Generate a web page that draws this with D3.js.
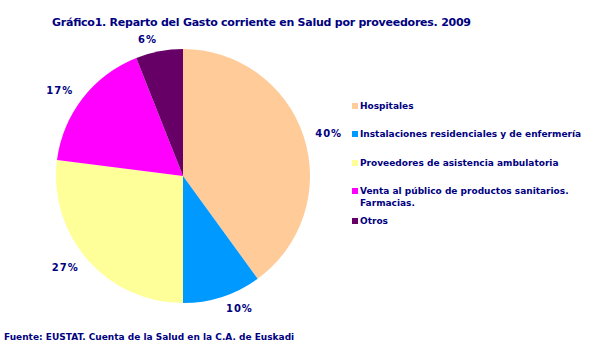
<!DOCTYPE html>
<html>
<head>
<meta charset="utf-8">
<script src="https://cdn.jsdelivr.net/npm/d3@7"></script>
<style>
  body { margin: 0; background: #fff; }
  text { font-family: "DejaVu Sans", Verdana, sans-serif; fill: #000080; font-weight: bold; }
</style>
</head>
<body>
<div id="chart"></div>
<script>
// data
const categories = ["Hospitales", "Instalaciones residenciales y de enfermería", "Proveedores de asistencia ambulatoria", "Venta al público de productos sanitarios. Farmacias.", "Otros"];
const shares = [40, 10, 27, 17, 6];
const colors = ["#FFCC99", "#0099FF", "#FFFF99", "#FF00FF", "#660066"];

const width = 598, height = 355;
const cx = 183, cy = 176, radius = 127;

const svg = d3.select("#chart").append("svg")
    .attr("width", width)
    .attr("height", height);

const data = categories.map((c, i) => ({ name: c, value: shares[i], color: colors[i] }));

const pie = d3.pie().value(d => d.value).sort(null);
const arc = d3.arc().innerRadius(0).outerRadius(radius);
const labelArc = d3.arc().innerRadius(radius + 12).outerRadius(radius + 12);

const g = svg.append("g").attr("transform", `translate(${cx},${cy})`);

const arcs = pie(data);

g.selectAll("path.slice")
  .data(arcs)
  .join("path")
    .attr("class", "slice")
    .attr("d", arc)
    .attr("fill", d => d.data.color);

// percent labels, anchored away from the pie like Excel does
const midAngle = d => (d.startAngle + d.endAngle) / 2;
g.selectAll("text.pct")
  .data(arcs)
  .join("text")
    .attr("class", "pct")
    .attr("transform", d => `translate(${labelArc.centroid(d)})`)
    .attr("text-anchor", d => midAngle(d) < Math.PI ? "start" : "end")
    .attr("dy", "0.35em")
    .style("font-size", "10px")
    .style("letter-spacing", "1px")
    .text(d => d.data.value + "%");

// title
svg.append("text")
    .attr("x", 52)
    .attr("y", 26)
    .attr("textLength", 419)
    .attr("lengthAdjust", "spacing")
    .style("font-size", "11px")
    .text("Gráfico1. Reparto del Gasto corriente en Salud por proveedores. 2009");

// legend
const legendY = [106, 134, 163, 191, 221];
const legend = svg.append("g").attr("transform", "translate(352,0)");
const item = legend.selectAll("g")
  .data(data)
  .join("g")
    .attr("transform", (d, i) => `translate(0,${legendY[i]})`);

item.append("rect")
    .attr("x", 0)
    .attr("y", -3)
    .attr("width", 6)
    .attr("height", 6)
    .attr("fill", d => d.color);

item.append("text")
    .attr("x", 8)
    .attr("y", 0)
    .style("font-size", "9px")
    .each(function(d) {
      const t = d3.select(this);
      const parts = d.name === categories[3] ? ["Venta al público de productos sanitarios.", "Farmacias."] : [d.name];
      parts.forEach((p, j) => {
        t.append("tspan").attr("x", 8).attr("dy", j === 0 ? "0.35em" : "12px").text(p);
      });
    });

// source
svg.append("text")
    .attr("x", 4)
    .attr("y", 340)
    .style("font-size", "9px")
    .text("Fuente: EUSTAT. Cuenta de la Salud en la C.A. de Euskadi");
</script>
</body>
</html>
